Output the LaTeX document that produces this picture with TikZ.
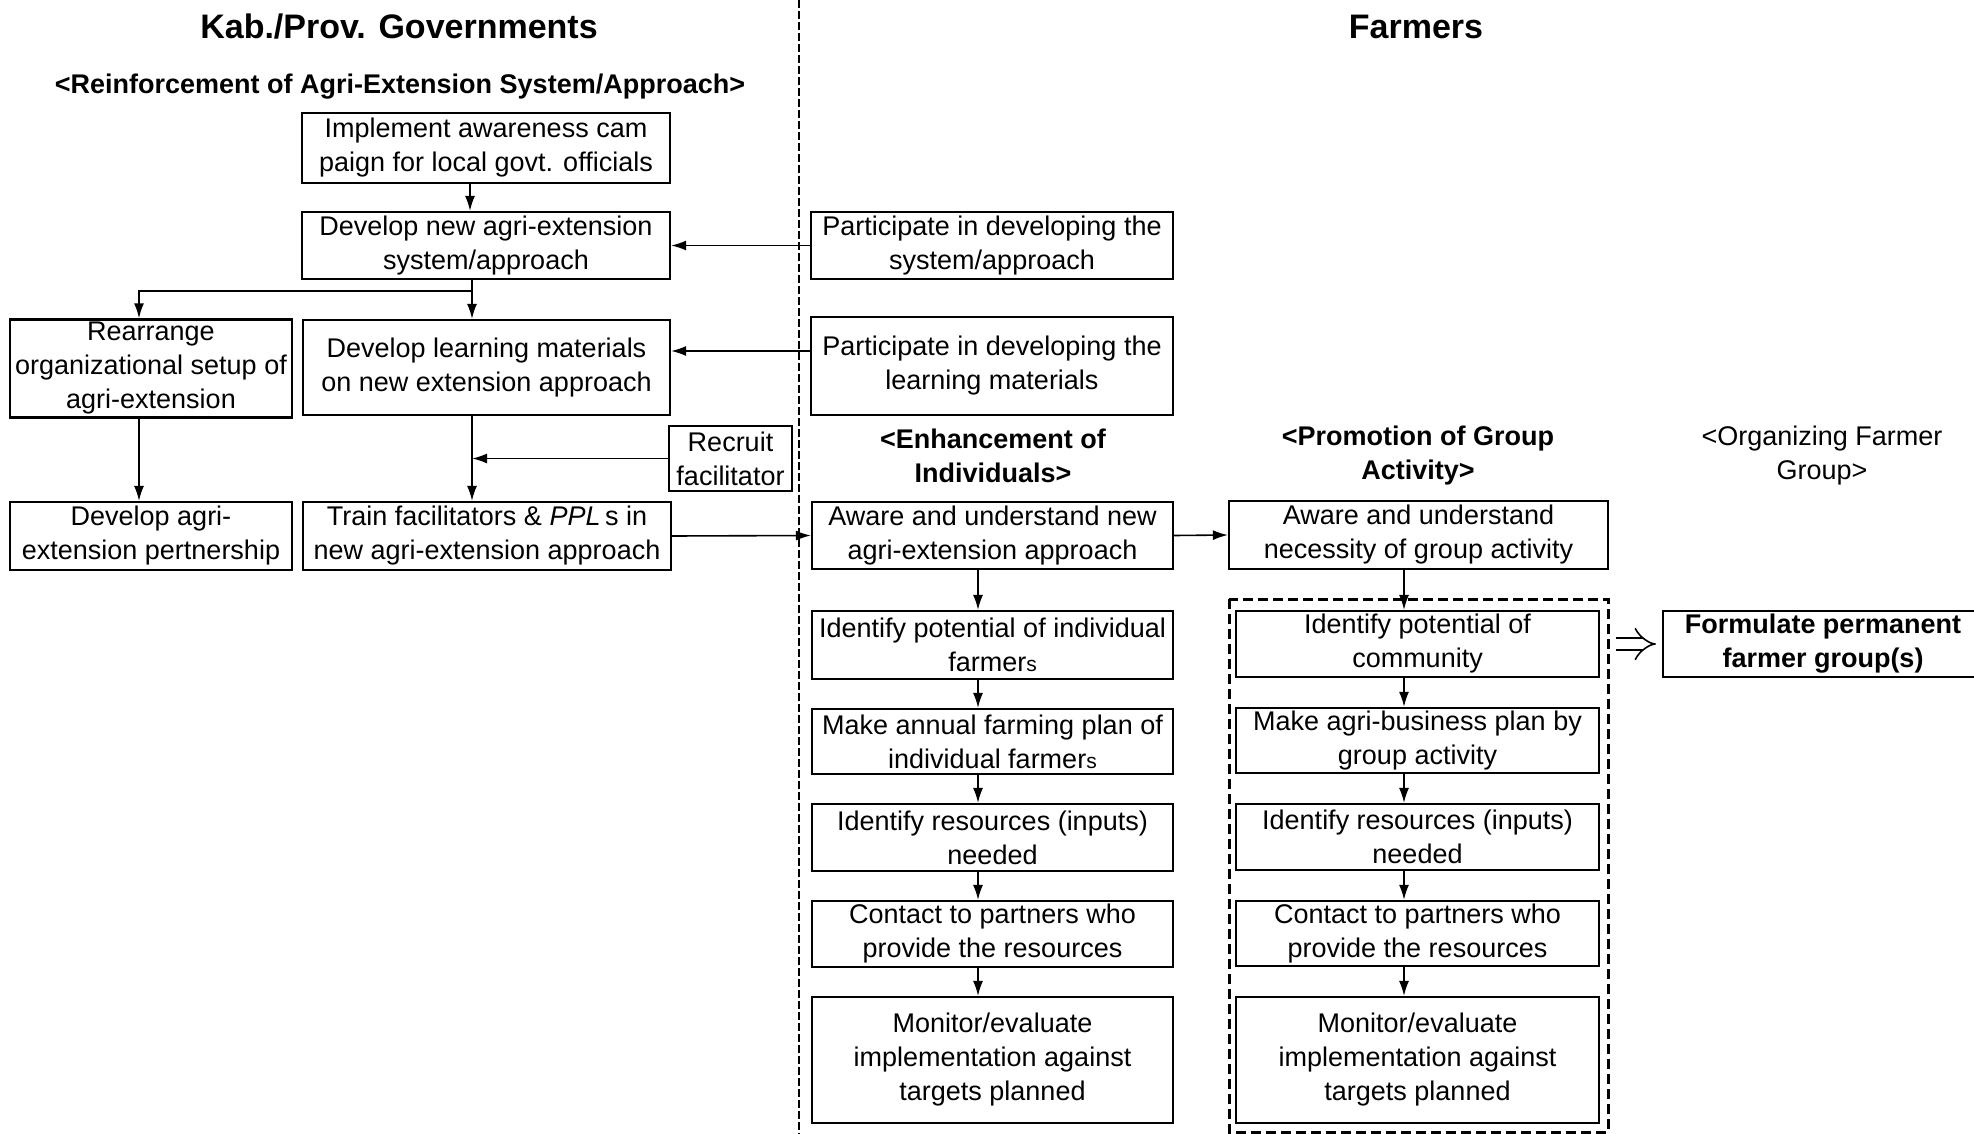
\documentclass[tikz,border=0pt]{standalone}
\usepackage{fontspec}
\setmainfont{Liberation Sans}
\usetikzlibrary{arrows.meta}
\newcommand{\smS}{{\fontsize{10.5}{17}\selectfont s}}
\begin{document}
\begin{tikzpicture}[x=0.5pt,y=-0.5pt,
  box/.style={draw, line width=1.1pt, align=center, inner sep=1.5pt, font=\fontsize{13.5}{17}\selectfont},
  arr/.style={line width=0.8pt, -{Latex[length=7.5pt,width=5pt]}},
  ln/.style={line width=0.8pt},
  hdr/.style={font=\bfseries\fontsize{17}{20}\selectfont},
  sub/.style={align=center, font=\bfseries\fontsize{13.5}{17}\selectfont},
  subn/.style={align=center, font=\fontsize{13.5}{17}\selectfont},
  divider/.style={line width=0.7pt, dash pattern=on 4pt off 1.5pt},
  grpbox/.style={line width=1.5pt, dash pattern=on 5pt off 2.5pt},
]
\useasboundingbox (0,0) rectangle (1974,1134);

% headings
\node[hdr] (hgov) at (399,27) {Kab./Prov. Governments};
\node[hdr] (hfarm) at (1416,27) {Farmers};
\node[sub] (hreinf) at (400,87) {<Reinforcement of Agri-Extension System/Approach>};
\node[sub] (henh) at (993,456) {<Enhancement of\\Individuals>};
\node[sub] (hprom) at (1418,456) {<Promotion of Group\\Activity>};
\node[subn] (horg) at (1822,456) {<Organizing Farmer\\Group>};

% divider
\coordinate (dtop) at (799,0);
\coordinate (dbot) at (799,1134);
\draw[divider] (dtop) -- (dbot);

% government column
\node[box, minimum width=184pt, minimum height=35pt] (A1) at (486,148) {Implement awareness cam\\paign for local govt. officials};
\node[box, minimum width=184pt, minimum height=33.5pt] (A2) at (486,245.5) {Develop new agri-extension\\system/approach};
\node[box, minimum width=141pt, minimum height=48.5pt] (A3) at (151,368.5) {Rearrange\\organizational setup of\\agri-extension};
\node[box, minimum width=183.5pt, minimum height=47.5pt] (A4) at (486.5,367.5) {Develop learning materials\\on new extension approach};
\node[box, minimum width=61.5pt, minimum height=32.5pt] (A5) at (730.5,458.5) {Recruit\\facilitator};
\node[box, minimum width=141pt, minimum height=34pt] (A6) at (151,536) {Develop agri-\\extension pertnership};
\node[box, minimum width=184pt, minimum height=34pt] (A7) at (487,536) {Train facilitators \& \textit{PPL}\,s in\\new agri-extension approach};

% farmers: individuals
\node[box, minimum width=181pt, minimum height=33.5pt] (B1) at (992,245.5) {Participate in developing the\\system/approach};
\node[box, minimum width=181pt, minimum height=49pt] (B2) at (992,366) {Participate in developing the\\learning materials};
\node[box, minimum width=180.5pt, minimum height=33.5pt] (B3) at (992.5,535.5) {Aware and understand new\\agri-extension approach};
\node[box, minimum width=180.5pt, minimum height=34pt] (B4) at (992.5,645) {Identify potential of individual\\farmer\smS};
\node[box, minimum width=180.5pt, minimum height=32.5pt] (B5) at (992.5,741.5) {Make annual farming plan of\\individual farmer\smS};
\node[box, minimum width=180.5pt, minimum height=33.5pt] (B6) at (992.5,837.5) {Identify resources (inputs)\\needed};
\node[box, minimum width=180.5pt, minimum height=33pt] (B7) at (992.5,934) {Contact to partners who\\provide the resources};
\node[box, minimum width=180.5pt, minimum height=63pt] (B8) at (992.5,1060) {Monitor/evaluate\\implementation against\\targets planned};

% farmers: group
\node[box, minimum width=189.5pt, minimum height=34pt] (C1) at (1418.5,535) {Aware and understand\\necessity of group activity};
\draw[grpbox] (1229,599) rectangle (1608,1132);
\node[box, minimum width=181.5pt, minimum height=33pt] (C2) at (1417.5,644) {Identify potential of\\community};
\node[box, minimum width=181.5pt, minimum height=31.5pt] (C3) at (1417.5,740.5) {Make agri-business plan by\\group activity};
\node[box, minimum width=181.5pt, minimum height=33pt] (C4) at (1417.5,837) {Identify resources (inputs)\\needed};
\node[box, minimum width=181.5pt, minimum height=32.5pt] (C5) at (1417.5,933.5) {Contact to partners who\\provide the resources};
\node[box, minimum width=181.5pt, minimum height=63pt] (C6) at (1417.5,1060) {Monitor/evaluate\\implementation against\\targets planned};

% organizing farmer group
\node[box, font=\bfseries\fontsize{13.5}{17}\selectfont, minimum width=160pt, minimum height=33pt] (D1) at (1823,644) {Formulate permanent\\farmer group(s)};

% connector guide coordinates
\coordinate (ax) at (470,0);
\coordinate (split) at (472,291);
\coordinate (a3x) at (139,0);
\coordinate (b2y) at (0,351);
\coordinate (bx) at (978,0);
\coordinate (cx) at (1404,0);

% government connectors
\draw[arr] (A1.south -| ax) -- (A2.north -| ax);
\draw[arr] (B1.west) -- (A2.east);
\draw[ln] (A2.south -| split) -- (split);
\draw[arr] (split) -| (A3.north -| a3x);
\draw[arr] (split) -- (A4.north -| split);
\draw[arr] (B2.west |- b2y) -- (A4.east |- b2y);
\draw[arr] (A3.south -| a3x) -- (A6.north -| a3x);
\draw[arr] (A4.south -| split) -- (A7.north -| split);
\draw[arr] (A5.west) -- (A5.west -| split);
\draw[arr] (A7.east) -- (B3.west);

% farmer connectors
\draw[arr] (B3.east) -- (C1.west);
\draw[arr] (B3.south -| bx) -- (B4.north -| bx);
\draw[arr] (B4.south -| bx) -- (B5.north -| bx);
\draw[arr] (B5.south -| bx) -- (B6.north -| bx);
\draw[arr] (B6.south -| bx) -- (B7.north -| bx);
\draw[arr] (B7.south -| bx) -- (B8.north -| bx);
\draw[arr] (C1.south -| cx) -- (C2.north -| cx);
\draw[arr] (C2.south -| cx) -- (C3.north -| cx);
\draw[arr] (C3.south -| cx) -- (C4.north -| cx);
\draw[arr] (C4.south -| cx) -- (C5.north -| cx);
\draw[arr] (C5.south -| cx) -- (C6.north -| cx);
\draw[line width=0.8pt, double distance=5pt, -{Implies}] ([xshift=8pt]C2.east) -- ([xshift=-3pt]D1.west);
\end{tikzpicture}
\end{document}
